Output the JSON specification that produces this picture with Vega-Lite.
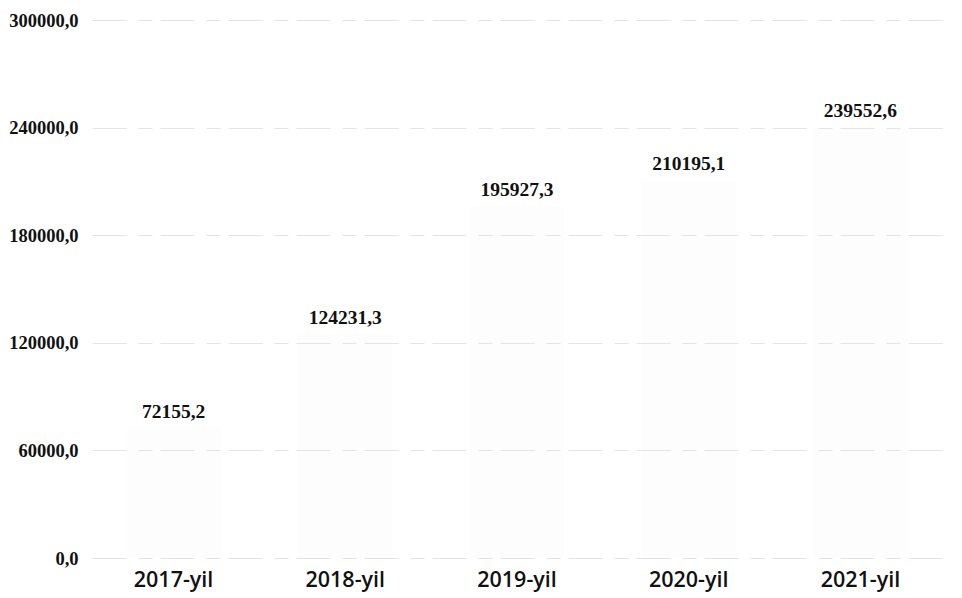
{
  "$schema": "https://vega.github.io/schema/vega-lite/v6.json",
  "width": 850,
  "height": 538,
  "autosize": {"type": "none"},
  "padding": {"left": 92, "top": 20, "right": 20, "bottom": 40},
  "background": "#ffffff",
  "config": {
    "locale": {"number": {"decimal": ",", "thousands": "", "grouping": [3], "currency": ["", ""]}},
    "view": {"stroke": null}
  },
  "data": {
    "values": [
      {"year": "2017-yil", "value": 72155.2},
      {"year": "2018-yil", "value": 124231.3},
      {"year": "2019-yil", "value": 195927.3},
      {"year": "2020-yil", "value": 210195.1},
      {"year": "2021-yil", "value": 239552.6}
    ]
  },
  "encoding": {
    "x": {
      "field": "year", "type": "nominal", "sort": null,
      "scale": {"paddingInner": 0.45, "paddingOuter": 0.2},
      "axis": {
        "title": null, "labelAngle": 0, "domain": false, "ticks": false,
        "labelFont": "Open Sans", "labelFontSize": 21.5, "labelFontWeight": 600,
        "labelColor": "#111111", "labelPadding": 11, "labelBaseline": "top"
      }
    },
    "y": {
      "field": "value", "type": "quantitative",
      "scale": {"domain": [0, 300000], "nice": false},
      "axis": {
        "title": null, "values": [0, 60000, 120000, 180000, 240000, 300000],
        "format": ".1f", "domain": false, "ticks": false,
        "labelFont": "Liberation Serif", "labelFontSize": 18.5, "labelFontWeight": "bold",
        "labelColor": "#111111", "labelPadding": 14,
        "grid": true, "gridColor": "#e4e4e4", "gridWidth": 1.2, "gridDash": [34, 12, 14, 8],
        "zindex": 1
      }
    }
  },
  "layer": [
    {
      "mark": {"type": "bar", "color": "#fdfdfd"}
    },
    {
      "mark": {
        "type": "text", "baseline": "bottom", "dy": -7,
        "font": "Liberation Serif", "fontSize": 19.5, "fontWeight": "bold", "color": "#111111"
      },
      "encoding": {
        "text": {"field": "value", "type": "quantitative", "format": ".1f"}
      }
    }
  ]
}
